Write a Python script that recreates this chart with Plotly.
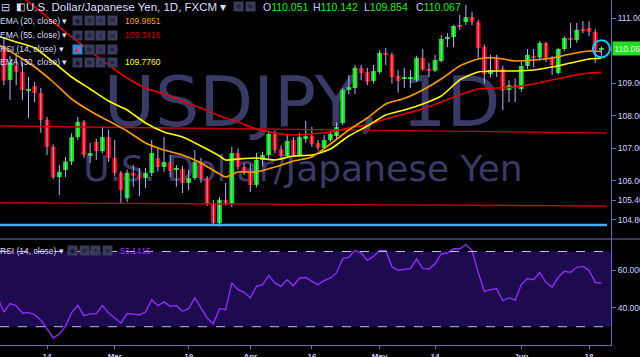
import plotly.graph_objects as go
import pandas as pd

# ---------------- data ----------------
dates = [d.strftime("%Y-%m-%d") for d in pd.bdate_range("2018-02-02", "2018-06-20")]

opens = [None, 110.15, 109.11, 109.55, 109.35, 108.77, 108.92, 108.71, 107.88, 107.05,
         106.12, 106.34, 106.60, 107.35, 107.82, 106.77, 107.20, 106.92, 107.35, 106.71,
         106.25, 105.47, 106.25, 106.18, 106.09, 106.25, 106.70, 106.43, 106.58, 106.34,
         106.37, 105.94, 106.09, 106.58, 106.09, 105.32, 104.70, 105.42, 105.29, 106.86,
         106.43, 106.28, 105.88, 106.65, 106.80, 107.45, 106.98, 106.77, 107.26, 106.80,
         107.32, 107.38, 107.17, 107.02, 107.26, 107.38, 107.78, 108.80, 108.86, 109.48,
         109.35, 109.08, 109.35, 109.94, 109.88, 109.23, 109.14, 109.15, 109.10, 109.79,
         109.45, 109.39, 109.69, 110.37, 110.43, 110.80, 110.89, 111.05, 110.89, 110.12,
         109.29, 109.79, 109.45, 108.80, 108.95, 108.83, 109.54, 109.85, 109.80, 110.25,
         109.79, 109.32, 110.06, 110.40, 110.34, 110.68, 110.71, 110.59, 110.051]
highs = [None, 110.40, 109.85, 109.95, 109.66, 109.20, 109.05, 108.86, 107.97, 107.13,
         106.50, 106.74, 107.47, 107.97, 107.88, 107.17, 107.30, 107.69, 107.57, 107.26,
         106.31, 106.35, 106.49, 106.40, 106.40, 107.26, 107.00, 107.35, 106.80, 106.49,
         106.46, 106.34, 106.95, 106.71, 106.15, 105.42, 105.51, 105.94, 107.05, 107.00,
         106.55, 106.52, 106.86, 106.90, 107.55, 107.55, 107.10, 107.45, 107.35, 107.48,
         107.85, 107.66, 107.26, 107.42, 107.55, 107.80, 108.85, 109.26, 109.57, 109.57,
         109.48, 109.57, 110.03, 110.09, 109.95, 109.41, 109.48, 109.41, 109.85, 110.06,
         109.63, 109.88, 110.49, 110.55, 110.80, 111.11, 111.42, 111.20, 110.95, 110.20,
         109.88, 109.88, 109.55, 109.10, 109.15, 109.66, 110.06, 110.06, 110.30, 110.28,
         109.85, 110.10, 110.45, 110.86, 110.86, 110.92, 110.92, 110.68, 110.142]
lows = [None, 108.95, 108.49, 108.95, 108.49, 107.94, 108.43, 107.48, 106.80, 106.05,
        105.57, 106.12, 106.49, 107.26, 106.71, 106.55, 106.65, 106.86, 106.59, 106.15,
        105.32, 105.35, 105.82, 105.54, 105.78, 106.15, 106.30, 106.28, 106.12, 105.82,
        105.63, 105.72, 106.03, 105.94, 105.23, 104.65, 104.59, 105.25, 105.20, 106.35,
        106.18, 105.66, 105.80, 106.45, 106.70, 106.85, 106.65, 106.70, 106.75, 106.75,
        107.18, 107.05, 106.94, 106.97, 107.20, 107.30, 107.72, 108.67, 108.67, 109.10,
        108.95, 109.00, 109.30, 109.57, 109.00, 108.72, 108.86, 108.86, 109.05, 109.40,
        109.20, 109.35, 109.65, 110.12, 110.12, 110.65, 110.80, 110.80, 109.78, 109.00,
        109.20, 109.20, 108.18, 108.43, 108.43, 108.75, 109.45, 109.50, 109.70, 109.66,
        109.26, 109.28, 110.00, 110.09, 110.25, 110.55, 110.45, 109.63, 109.854]
closes = [None, 109.09, 109.63, 109.35, 108.80, 108.83, 108.71, 107.88, 107.05, 106.12,
          106.28, 106.60, 107.35, 107.82, 106.80, 106.86, 106.92, 107.35, 106.71, 106.25,
          105.72, 106.25, 106.16, 106.08, 106.25, 106.86, 106.43, 106.58, 106.31, 106.40,
          105.94, 106.09, 106.58, 106.09, 105.29, 104.71, 105.42, 105.29, 106.86, 106.43,
          106.25, 105.88, 106.65, 106.80, 107.45, 106.95, 106.77, 107.23, 106.80, 107.35,
          107.38, 107.14, 107.02, 107.26, 107.45, 107.66, 108.80, 108.89, 109.48, 109.32,
          109.05, 109.38, 109.94, 109.88, 109.20, 109.08, 109.17, 109.20, 109.79, 109.42,
          109.39, 109.72, 110.37, 110.43, 110.77, 110.74, 111.04, 110.89, 110.09, 109.29,
          109.42, 109.42, 108.78, 108.95, 108.86, 109.54, 109.88, 109.79, 110.25, 109.80,
          109.57, 110.06, 110.40, 110.35, 110.65, 110.62, 110.59, 110.05, 110.067]

rsi = [45.5, 37.8, 42.3, 41.2, 37.3, 37.5, 36.4, 33.5, 29.0, 24.0,
       26.1, 30.2, 37.5, 41.4, 35.9, 36.8, 37.0, 41.2, 37.3, 34.6,
       32.0, 37.0, 36.8, 36.4, 37.8, 44.4, 41.2, 43.2, 40.9, 41.2,
       38.2, 39.6, 45.3, 39.6, 34.6, 31.6, 39.6, 39.1, 53.3, 49.7,
       48.3, 45.3, 51.5, 52.4, 57.2, 53.3, 51.5, 55.0, 51.8, 55.9,
       56.2, 54.1, 52.4, 54.5, 55.9, 58.6, 66.2, 66.9, 70.6, 69.2,
       65.3, 67.4, 70.6, 70.5, 61.8, 60.0, 60.4, 60.9, 66.0, 60.9,
       60.7, 63.4, 68.7, 69.2, 71.5, 71.3, 73.7, 70.6, 58.9, 48.8,
       49.7, 50.2, 43.9, 45.3, 44.2, 52.4, 55.6, 55.0, 58.9, 53.6,
       51.0, 56.3, 59.5, 58.9, 61.6, 62.1, 60.0, 53.6, 53.1415]

ema_dates = ["2018-02-02", "2018-02-07", "2018-02-12", "2018-02-15", "2018-02-20",
             "2018-02-23", "2018-02-28", "2018-03-05", "2018-03-08", "2018-03-13",
             "2018-03-16", "2018-03-21", "2018-03-26", "2018-03-27", "2018-03-29",
             "2018-04-03", "2018-04-06", "2018-04-11", "2018-04-16", "2018-04-19",
             "2018-04-24", "2018-04-27", "2018-05-02", "2018-05-07", "2018-05-10",
             "2018-05-15", "2018-05-18", "2018-05-23", "2018-05-28", "2018-05-31",
             "2018-06-05", "2018-06-08", "2018-06-13", "2018-06-18", "2018-06-20"]
ema20 = [110.215, 109.877, 109.508, 109.046, 108.523, 108.154, 107.846, 107.538, 107.169,
         106.954, 106.800, 106.554, 106.215, 106.123, 106.277, 106.277, 106.431, 106.615,
         106.740, 107.138, 107.569, 107.938, 108.369, 108.538, 108.800, 109.138, 109.538,
         109.754, 109.785, 109.692, 109.723, 109.785, 109.908, 110.000, 109.9851]
ema30 = [110.461, 110.277, 110.092, 109.662, 109.200, 108.831, 108.461, 108.185, 107.785,
         107.508, 107.354, 107.077, 106.769, 106.646, 106.677, 106.708, 106.646, 106.769,
         106.800, 106.985, 107.385, 107.692, 108.031, 108.185, 108.369, 108.615, 109.108,
         109.354, 109.385, 109.385, 109.415, 109.508, 109.631, 109.754, 109.7760]
ema55 = [112.246, 111.815, 111.354, 110.892, 110.431, 110.000, 109.569, 109.169, 108.862,
         108.677, 108.461, 108.246, 108.000, 107.938, 107.815, 107.600, 107.477, 107.415,
         107.446, 107.508, 107.631, 107.723, 107.908, 108.062, 108.215, 108.431, 108.646,
         108.831, 108.862, 108.892, 108.985, 109.108, 109.231, 109.323, 109.3416]

# drawn levels (start value, end value)
upper_trend = [107.693, 107.477]
lower_trend = [105.333, 105.230]
blue_level = [104.646, 104.646]
rsi_bands = [30, 70]

tick_dates = ["2018-02-14", "2018-03-01", "2018-03-19", "2018-04-02", "2018-04-16",
              "2018-05-01", "2018-05-14", "2018-06-01", "2018-06-18"]
tick_labels = ["14", "Mar", "19", "Apr", "16", "May", "14", "Jun", "18"]
price_ticks = [104.8, 105.4, 106, 107, 108, 109, 111]
rsi_ticks = [40, 60]

# ---------------- styling ----------------
AX = "#6c6cb0"
TXT = "#cfcfff"
GREEN = "#00e800"
RED = "#e80000"
WICK = "#b4b4ff"
WM = "#3a3a66"
W, H = 640, 357
ML, MR, MT, MB = 0, 29, 0, 12
PW, PH = W - ML - MR, H - MT - MB
SPLIT = 1 - 239 / PH

pos = {d: k for k, d in enumerate(dates)}
xs = list(range(len(dates)))
last = len(dates) - 1

fig = go.Figure()

# wicks
wx, wy = [], []
for k in xs:
    if highs[k] is None:
        continue
    wx += [k, k, None]
    wy += [lows[k], highs[k], None]
fig.add_trace(go.Scatter(x=wx, y=wy, mode="lines", line=dict(color=WICK, width=1),
                         hoverinfo="skip"))

# bodies
bx, base, hgt, col = [], [], [], []
for k in xs:
    if opens[k] is None:
        continue
    lo, hi = min(opens[k], closes[k]), max(opens[k], closes[k])
    bx.append(k)
    base.append(lo)
    hgt.append(max(hi - lo, 0.03))
    col.append(GREEN if closes[k] >= opens[k] else RED)
fig.add_trace(go.Bar(x=bx, y=hgt, base=base, width=0.78, marker=dict(color=col, line=dict(width=0))))

# drawn levels
x_end = last + 0.9
for vals, c, w in [(upper_trend, "#c40000", 1.4), (lower_trend, "#c40000", 1.4),
                   (blue_level, "#4aa8ff", 2.6)]:
    fig.add_trace(go.Scatter(x=[0, x_end], y=vals, mode="lines", line=dict(color=c, width=w)))

# EMAs
ex = [pos[d] for d in ema_dates]
for vals, c in [(ema55, "#e00000"), (ema30, "#ffff00"), (ema20, "#ff9a00")]:
    fig.add_trace(go.Scatter(x=ex, y=vals, mode="lines",
                             line=dict(color=c, width=1.6, shape="spline", smoothing=0.6)))

# last price marker
fig.add_trace(go.Scatter(x=[last], y=[closes[last]], mode="markers",
                         marker=dict(symbol="circle-open", size=17, color="#22c8f0",
                                     line=dict(width=2, color="#22c8f0"))))

# RSI
fig.add_trace(go.Scatter(x=xs, y=rsi, yaxis="y2", mode="lines",
                         line=dict(color="#8f2cff", width=1.4)))

# RSI band + dashed levels
fig.add_shape(type="rect", xref="paper", yref="y2", x0=0, x1=1, y0=rsi_bands[0], y1=rsi_bands[1],
              fillcolor="#1e0a4e", line_width=0, layer="below")
for lv in rsi_bands:
    fig.add_shape(type="line", xref="paper", yref="y2", x0=0, x1=1, y0=lv, y1=lv,
                  line=dict(color="#c4b8ff", width=1, dash="dash"))

# pane separator
fig.add_shape(type="line", xref="paper", yref="paper", x0=0, x1=W / PW, y0=SPLIT, y1=SPLIT,
              line=dict(color=AX, width=1))


def px(x):
    return (x - ML) / PW


def py(y):
    return 1 - (y - MT) / PH


# watermark (below traces)
for text, cx, cy, size in [("USDJPY, 1D", 302, 97, 70), ("U.S. Dollar/Japanese Yen", 303, 165, 36)]:
    fig.add_shape(type="rect", xref="paper", yref="paper", x0=px(cx) - 0.4, x1=px(cx) + 0.4,
                  y0=py(cy) - 0.12, y1=py(cy) + 0.12, line_width=0,
                  fillcolor="rgba(0,0,0,0)", layer="below",
                  label=dict(text=text, textposition="middle center",
                             font=dict(family="DejaVu Sans", size=size, color=WM)))


def note(text, x, y, size, color, anchor="left", **kw):
    fig.add_annotation(text=text, xref="paper", yref="paper", x=px(x), y=py(y),
                       xanchor=anchor, yanchor="middle", showarrow=False,
                       font=dict(family="Liberation Sans, Arial", size=size, color=color), **kw)


def icons(x0, y, first_bg="#3b3b5c", first_fg="#14142a"):
    syms = ["◉", "✲", "+", "✕"]
    for n, s in enumerate(syms):
        bg = first_bg if n == 0 else "#3b3b5c"
        fg = first_fg if n == 0 else "#14142a"
        fig.add_annotation(text=s, xref="paper", yref="paper", x=px(x0 + n * 11.6), y=py(y),
                           xanchor="left", yanchor="middle", showarrow=False,
                           width=9, height=9, bgcolor=bg, borderpad=0,
                           font=dict(family="DejaVu Sans", size=7, color=fg))


# header line
note("⊟", -1, 7, 11, "#c8c8f0")
note("◧", 14, 7, 10, "#e0e0ff")
note("U.S. Dollar/Japanese Yen, 1D, FXCM ▾", 24, 7, 11.5, "#dedeff")
for n in range(2):
    fig.add_annotation(text="✲", xref="paper", yref="paper", x=px(233 + n * 11.5), y=py(7),
                       xanchor="left", yanchor="middle", showarrow=False, width=9, height=9,
                       bgcolor="#3b3b5c", borderpad=0,
                       font=dict(family="DejaVu Sans", size=7, color="#14142a"))
for lab, val, x in [("O", opens[last], 261), ("H", highs[last], 311),
                    ("L", lows[last], 362), ("C", closes[last], 414)]:
    note(f"{lab}<span style='color:#22ee22'>{val:.3f}</span>", x, 7, 10.5, "#c8c8ff")

# indicator rows
rows = [("EMA (20, close) ▾", 21, ema20[-1], "#ffa000", None),
        ("EMA (55, close) ▾", 35, ema55[-1], "#d00000", None),
        ("RSI (14, close) ▾", 49, None, None, "#1e8fe0"),
        ("EMA (30, close) ▾", 62, ema30[-1], "#ffff00", None)]
for text, y, val, vc, hl in rows:
    note(text, -2, y, 8.5, "#dcdcff")
    if hl:
        icons(72, y, first_bg=hl, first_fg="#ff3060")
    else:
        icons(72, y)
    if val is not None:
        note(f"{val:.4f}", 123, y, 8.5, vc)

# RSI pane legend
note("RSI (14, close) ▾", -2, 251, 8.5, "#dcdcff")
icons(67, 251)
note(f"{rsi[-1]:.4f}", 118, 251, 8.5, "#9b30ff")

# last price tag on axis
fig.add_annotation(text=f"{closes[last]:.3f}", xref="paper", yref="y", x=px(612), y=closes[last],
                   xanchor="left", yanchor="middle", showarrow=False, bgcolor="#22dd22",
                   borderpad=1.5, font=dict(family="Liberation Sans, Arial", size=8.5, color="#e6ffe6"))

fig.update_layout(
    width=W, height=H, margin=dict(l=ML, r=MR, t=MT, b=MB),
    paper_bgcolor="black", plot_bgcolor="black", showlegend=False,
    xaxis=dict(range=[0.37, 99.56], anchor="y2", showgrid=False, zeroline=False,
               showline=True, linecolor=AX, linewidth=1, ticks="outside", ticklen=3,
               tickcolor=AX, tickvals=[pos[d] for d in tick_dates], ticktext=tick_labels,
               tickfont=dict(family="Liberation Sans, Arial", size=8, color=TXT, weight="bold"),
               automargin=False),
    yaxis=dict(domain=[SPLIT, 1], range=[111.569 - 239 / 32.5, 111.569], side="right",
               anchor="x", showgrid=False, zeroline=False, showline=True, linecolor=AX,
               ticks="outside", ticklen=4, tickcolor=AX, tickvals=price_ticks,
               ticktext=[f"{v:.3f}" for v in price_ticks],
               tickfont=dict(family="Liberation Sans, Arial", size=8.5, color=TXT),
               automargin=False),
    yaxis2=dict(domain=[0, SPLIT], range=[20.27, 76.65], side="right", anchor="x",
                showgrid=False, zeroline=False, showline=True, linecolor=AX,
                ticks="outside", ticklen=4, tickcolor=AX, tickvals=rsi_ticks,
                ticktext=[f"{v:.4f}" for v in rsi_ticks],
                tickfont=dict(family="Liberation Sans, Arial", size=8.5, color=TXT),
                automargin=False),
)

fig.write_html("out.html")
